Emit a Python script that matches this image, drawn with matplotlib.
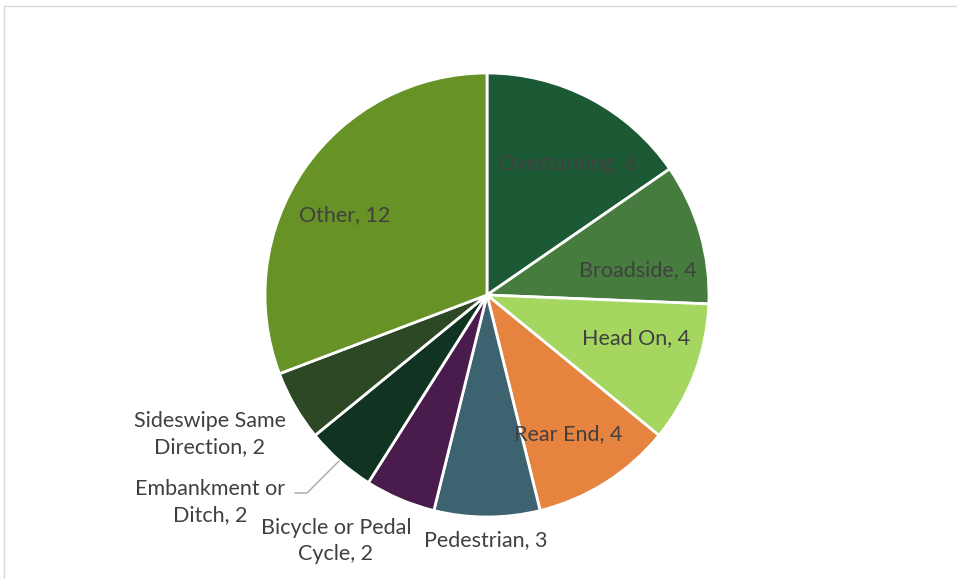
import matplotlib
matplotlib.use("Agg")
import matplotlib.pyplot as plt
from matplotlib.patches import Rectangle

categories = ["Overturning", "Broadside", "Head On", "Rear End", "Pedestrian",
              "Bicycle or Pedal Cycle", "Embankment or Ditch",
              "Sideswipe Same Direction", "Other"]
values = [6, 4, 4, 4, 3, 2, 2, 2, 12]
colors = ["#1B5A34", "#467C3D", "#A5D65F", "#E6833F", "#3E6370",
          "#4A1C4E", "#113422", "#2D4824", "#679226"]
label_texts = ["Overturning, 6", "Broadside, 4", "Head On, 4", "Rear End, 4",
               "Pedestrian, 3", "Bicycle or Pedal\nCycle, 2", "Embankment or\nDitch, 2",
               "Sideswipe Same\nDirection, 2", "Other, 12"]
# label centers in pixel coords (x, y from top)
label_pos = [(567, 164), (638, 270), (636, 338), (568, 434), (486, 540),
             (336, 541), (210, 502), (210, 434), (345, 215)]

W, H = 957, 579
fig = plt.figure(figsize=(W / 100, H / 100), dpi=100)
ax = fig.add_axes([0, 0, 1, 1])

# chart border
ax.add_patch(Rectangle((4, -10), W + 20, H - 6 + 10, fill=False,
                       edgecolor="#D9D9D9", linewidth=1.0))

cx, cy, r = 487, H - 295, 222
ax.pie(values, colors=colors, startangle=90, counterclock=False,
       center=(cx, cy), radius=r,
       wedgeprops=dict(edgecolor="white", linewidth=2.0))
ax.set_xlim(0, W)
ax.set_ylim(0, H)
ax.set_aspect("equal")
ax.axis("off")

for txt, (x, y) in zip(label_texts, label_pos):
    ax.text(x, H - y, txt, ha="center", va="center", fontsize=15.5,
            family="Lato", color="#404040", linespacing=1.4)

# leader line for Embankment or Ditch
ax.plot([295, 307, 339], [H - 493, H - 493, H - 461], color="#A6A6A6", lw=1.0)

fig.savefig("out.png", dpi=100)
